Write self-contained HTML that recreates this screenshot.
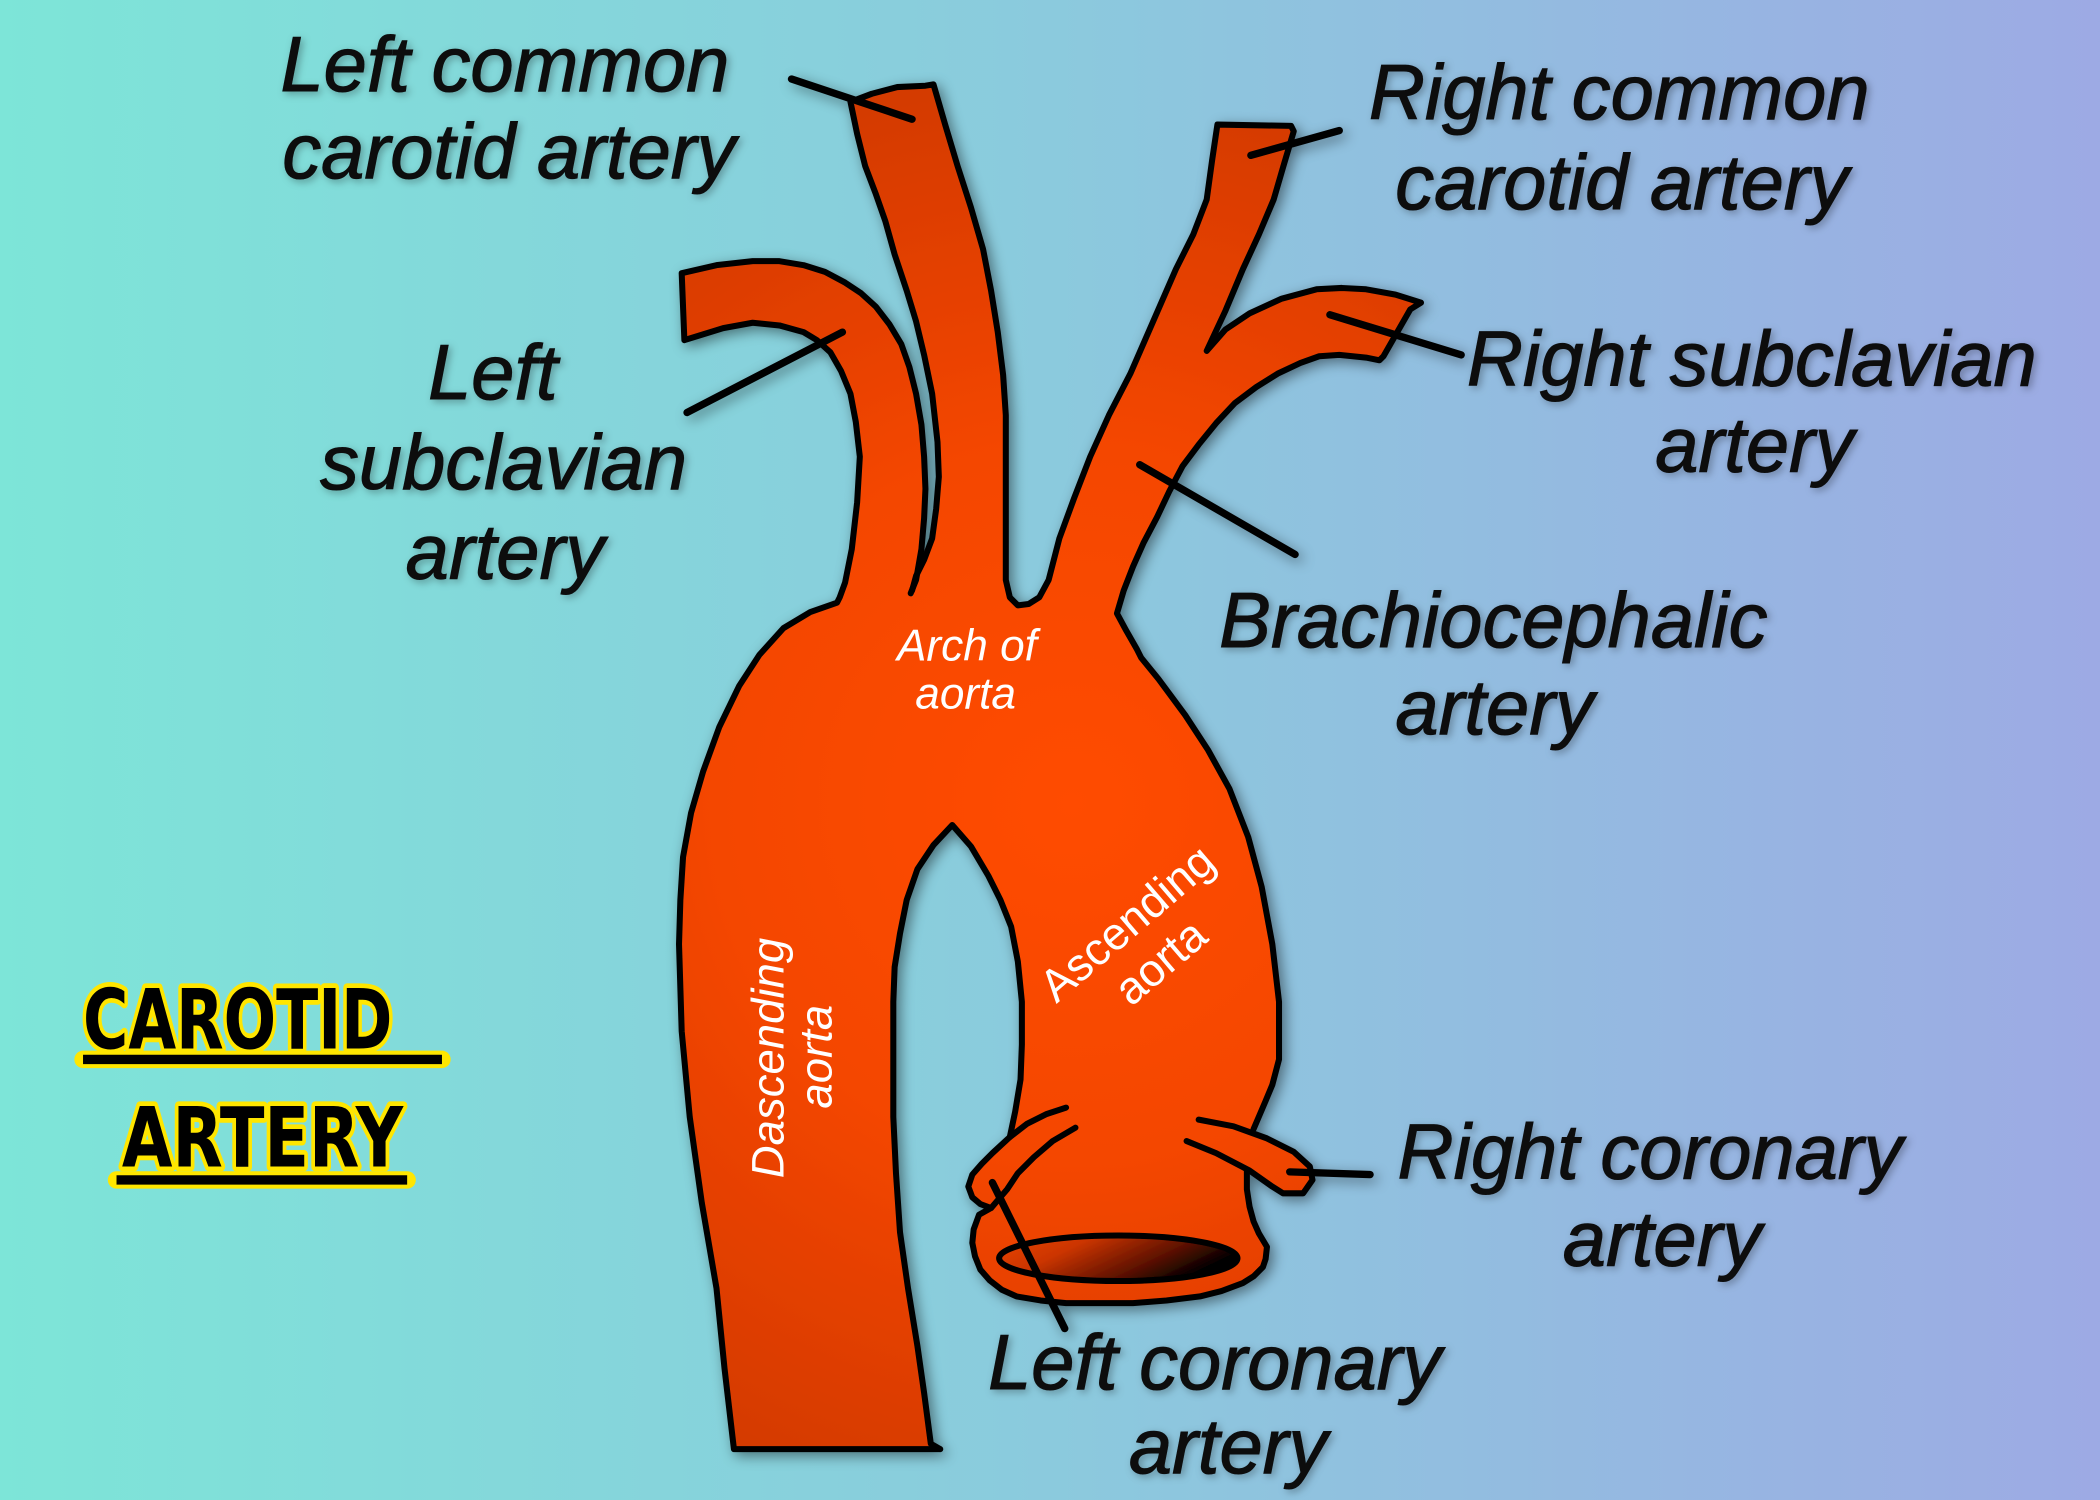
<!DOCTYPE html>
<html><head><meta charset="utf-8"><style>html,body{margin:0;padding:0;background:#8ccbdd}svg{display:block}</style></head>
<body>
<svg xmlns="http://www.w3.org/2000/svg" width="2100" height="1500" viewBox="0 0 1568 1120">
<defs>
<linearGradient id="bg" x1="0" y1="0" x2="1" y2="0">
<stop offset="0" stop-color="#7de5d8"/>
<stop offset="0.5" stop-color="#8bcadd"/>
<stop offset="1" stop-color="#9daae4"/>
</linearGradient>
<radialGradient id="red" gradientUnits="userSpaceOnUse" cx="800" cy="600" r="540">
<stop offset="0" stop-color="#ff4c00"/>
<stop offset="0.5" stop-color="#f44600"/>
<stop offset="1" stop-color="#d43a00"/>
</radialGradient>
<linearGradient id="hole" x1="0" y1="0" x2="1" y2="0.4">
<stop offset="0" stop-color="#ec4400"/>
<stop offset="0.35" stop-color="#cc3500"/>
<stop offset="0.75" stop-color="#5a1000"/>
<stop offset="1" stop-color="#000"/>
</linearGradient>
<filter id="sh" x="-10%" y="-10%" width="120%" height="120%">
<feDropShadow dx="3" dy="3" stdDeviation="5" flood-color="#000" flood-opacity="0.45"/>
</filter>
<filter id="tsh" x="-10%" y="-20%" width="120%" height="140%">
<feDropShadow dx="2" dy="2" stdDeviation="3" flood-color="#000" flood-opacity="0.3"/>
</filter>
</defs>

<rect width="1568" height="1120" fill="url(#bg)"/>

<g filter="url(#sh)">
<g fill="url(#red)" stroke="none">
<polygon points="548,1082 541,1022 535,962 524,898 515,834 509,770 507,705 508,672 510,640 516,607 525,576 537,543 552,512 567,489 585,469 605,457 625,450 640,445 680,445 752,448 760,453 768,452 776,450 790,452 834,458 841,471 849,485 852,491 865,507 885,534 902,560 918,589 932,625 942,662 950,705 955,748 955,791 950,810 945,822 936,843 931,874 931,888 933,901 936,912 940,921 946,931 945,940 943,946 936,953 928,958 912,964 896,968 871,971 846,973 821,973 796,973 777,971 759,968 748,963 739,956 732,948 728,938 726,928 727,918 731,907 740,902 732,899 726,894 723,886 726,877 733,869 741,861 754,849 758,830 762,806 763,780 763,748 760,718 755,692 747,672 738,654 725,632 711,616 697,631 685,649 677,672 672,697 668,722 667,748 667,790 667,834 669,876 672,920 678,962 685,1005 690,1040 695,1078 702,1082"/>
<polygon points="627,452 627,446 631,435 636,410 640,375 642,341 639,315 635,294 628,277 620,263 610,254 600,248 582,243 562,241 540,245 511,254 509,204 535,198 562,195 582,195 600,198 616,203 631,211 643,219 654,229 664,242 673,257 679,274 684,294 688,317 690,341 691,365 690,387 688,410 684,433 680,443 680,452"/>
<polygon points="635,76 651,70 670,65 691,64 697,63 706,94 715,124 725,155 734,186 740,217 745,248 749,280 751,310 751,340 751,371 751,400 751,433 754,446 760,456 684,456 681,441 684,430 690,418 696,402 699,380 701,356 700,330 696,294 690,265 684,240 677,217 668,190 661,165 654,145 646,124 640,100"/>
<polygon points="776,446 783,433 791,402 802,372 814,341 828,310 844,279 861,240 878,201 891,175 901,149 905,120 909,93 964,94 966,98 958,125 951,149 940,175 928,201 915,232 901,262 915,246 933,234 957,223 983,216 1002,215 1020,216 1042,220 1061,226 1053,231 1033,266 1030,269 1020,267 1000,265 985,266 971,271 954,279 938,289 922,301 908,316 895,332 883,348 873,367 864,386 854,405 846,423 839,441 834,458 834,470 770,462 768,451"/>
<polygon points="895,836 921,841 946,850 966,860 978,871 980,881 973,891 958,891 950,886 933,874 908,861 886,852"/>
</g>
<ellipse cx="835" cy="939.5" rx="89" ry="17" fill="url(#hole)" stroke="#000" stroke-width="4.5"/>
<g fill="none" stroke="#000" stroke-width="4.5" stroke-linejoin="round" stroke-linecap="round">
<polyline points="702,1082 548,1082 541,1022 535,962 524,898 515,834 509,770 507,705 508,672 510,640 516,607 525,576 537,543 552,512 567,489 585,469 605,457 625,450 627,446 631,435 636,410 640,375 642,341 639,315 635,294 628,277 620,263 610,254 600,248 582,243 562,241 540,245 511,254 509,204 535,198 562,195 582,195 600,198 616,203 631,211 643,219 654,229 664,242 673,257 679,274 684,294 688,317 690,341 691,365 690,387 688,410 684,433 680,443"/>
<polyline points="681,441 684,430 690,418 696,402 699,380 701,356 700,330 696,294 690,265 684,240 677,217 668,190 661,165 654,145 646,124 640,100 635,76 651,70 670,65 691,64 697,63 706,94 715,124 725,155 734,186 740,217 745,248 749,280 751,310 751,340 751,371 751,400 751,433 754,446 760,452 768,451 776,446 783,433 791,402 802,372 814,341 828,310 844,279 861,240 878,201 891,175 901,149 905,120 909,93 964,94 966,98 958,125 951,149 940,175 928,201 915,232 901,262 915,246 933,234 957,223 983,216 1002,215 1020,216 1042,220 1061,226 1053,231 1033,266 1030,269 1020,267 1000,265 985,266 971,271 954,279 938,289 922,301 908,316 895,332 883,348 873,367 864,386 854,405 846,423 839,441 834,458 841,471 849,485 852,491 865,507 885,534 902,560 918,589 932,625 942,662 950,705 955,748 955,791 950,810 945,822 936,843"/>
<polyline points="895,836 921,841 946,850 966,860 978,871 980,881 973,891 958,891 950,886 933,874 908,861 886,852"/>
<polyline points="931,874 931,888 933,901 936,912 940,921 946,931 945,940 943,946 936,953 928,958 912,964 896,968 871,971 846,973 821,973 796,973 777,971 759,968 748,963 739,956 732,948 728,938 726,928 727,918 731,907 740,902 732,899 726,894 723,886 726,877 733,869 741,861 754,849 767,839 781,832 796,827"/>
<polyline points="740,902 746,895 752,888 760,876 772,864 786,852 803,842"/>
<polyline points="702,1082 695,1078 690,1040 685,1005 678,962 672,920 669,876 667,834 667,790 667,748 668,722 672,697 677,672 685,649 697,631 711,616 725,632 738,654 747,672 755,692 760,718 763,748 763,780 762,806 758,830 754,849"/>
</g>
<g stroke="#000" stroke-width="5.5" stroke-linecap="round">
<line x1="591" y1="59" x2="681" y2="89"/>
<line x1="934" y1="116" x2="1000" y2="97.5"/>
<line x1="513" y1="308" x2="629" y2="248"/>
<line x1="851" y1="347" x2="967" y2="414"/>
<line x1="993" y1="235" x2="1091" y2="265"/>
<line x1="963" y1="875" x2="1023" y2="877"/>
<line x1="741" y1="883" x2="795" y2="992"/>
</g>
</g>

<g fill="#fff" font-family="'Liberation Sans', Arial, sans-serif">
<text x="722" y="493" font-size="33" font-style="italic" text-anchor="middle">Arch of</text>
<text x="721" y="529" font-size="33" font-style="italic" text-anchor="middle">aorta</text>
<text transform="translate(849,698) rotate(-40.6)" font-size="34" text-anchor="middle">Ascending</text>
<text transform="translate(874,727) rotate(-40.6)" font-size="34" text-anchor="middle">aorta</text>
<text transform="translate(585,790) rotate(-90)" font-size="34" font-style="italic" text-anchor="middle">Dascending</text>
<text transform="translate(621,789) rotate(-90)" font-size="34" font-style="italic" text-anchor="middle">aorta</text>
</g>

<g filter="url(#tsh)" fill="#0a0a0a" stroke="#0a0a0a" stroke-width="0.8" font-family="'Liberation Sans', Arial, sans-serif" font-size="58" font-style="italic" text-anchor="middle">
<text x="377" y="68">Left common</text>
<text x="380" y="133">carotid artery</text>
<text x="1209" y="89">Right common</text>
<text x="1211" y="156">carotid artery</text>
<text x="368" y="298">Left</text>
<text x="376" y="365">subclavian</text>
<text x="377" y="432">artery</text>
<text x="1308" y="288">Right subclavian</text>
<text x="1310" y="352">artery</text>
<text x="1115" y="483">Brachiocephalic</text>
<text x="1116" y="548">artery</text>
<text x="1232" y="880">Right coronary</text>
<text x="1241" y="945">artery</text>
<text x="907" y="1037">Left coronary</text>
<text x="917" y="1100">artery</text>
</g>

<g>
<line x1="62" y1="791" x2="330" y2="791" stroke="#ffe600" stroke-width="13" stroke-linecap="round"/>
<line x1="62" y1="791" x2="330" y2="791" stroke="#000" stroke-width="7"/>
<line x1="87" y1="881" x2="304" y2="881" stroke="#ffe600" stroke-width="13" stroke-linecap="round"/>
<line x1="87" y1="881" x2="304" y2="881" stroke="#000" stroke-width="7"/>
<g font-family="'DejaVu Sans', 'Liberation Sans', sans-serif" font-weight="bold" font-size="62" fill="#000" stroke="#ffe600" stroke-width="7" stroke-linejoin="round" paint-order="stroke">
<text x="62" y="783" textLength="231" lengthAdjust="spacingAndGlyphs">CAROTID</text>
<text x="91" y="871" textLength="210" lengthAdjust="spacingAndGlyphs">ARTERY</text>
</g>
</g>
</svg>
</body></html>
